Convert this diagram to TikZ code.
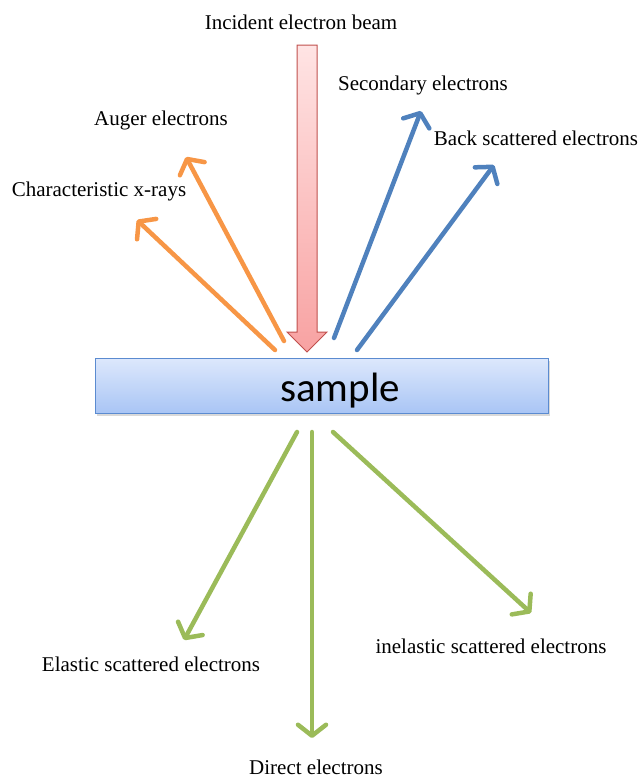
\documentclass[tikz,border=0pt]{standalone}
\usepackage{fontspec}
\setmainfont{Liberation Serif}
\newfontfamily\samplefont{Carlito}
\usetikzlibrary{arrows.meta,shadows}
\definecolor{orangeA}{HTML}{F79646}
\definecolor{blueA}{HTML}{4F81BD}
\definecolor{greenA}{HTML}{9BBB59}
\definecolor{beamedge}{HTML}{C0504D}
\definecolor{boxedge}{HTML}{5B8BD0}
\definecolor{boxtop}{HTML}{DDE8FC}
\definecolor{boxbot}{HTML}{A9C5F5}
\definecolor{beamtop}{HTML}{FFE4E4}
\definecolor{beambot}{HTML}{F8A2A2}
\tikzset{
  lbl/.style={font=\fontsize{21}{24}\selectfont, inner sep=0pt},
  ray/.style={line width=4.5pt, line cap=round,
    -{Straight Barb[length=11pt,width=28pt,line cap=round,line join=round]}},
  orray/.style={ray, draw=orangeA},
  blray/.style={ray, draw=blueA},
  grray/.style={ray, draw=greenA},
}
\begin{document}
\begin{tikzpicture}[x=1pt,y=-1pt]
\useasboundingbox (0,0) rectangle (642,780);
% incident beam
\shade[top color=beamtop, bottom color=beambot, draw=beamedge, line width=1pt]
  (297,45) -- (317,45) -- (317,332) -- (327,332) -- (307,352) -- (287,332) -- (297,332) -- cycle;
\node[lbl] (beam) at (301,22) {Incident electron beam};
% sample
\node[draw=boxedge, line width=1pt, top color=boxtop, bottom color=boxbot,
      minimum width=453pt, minimum height=55pt, inner sep=0pt,
      drop shadow={shadow xshift=1.5pt, shadow yshift=-2.5pt, opacity=0.3}] (sample) at (321.5,385.5) {};
\node[font=\samplefont\fontsize{41}{44}\selectfont, inner sep=0pt] (samplelbl) at (340,391) {sample};
% labels
\node[lbl] (sec) at (423,85) {Secondary electrons};
\node[lbl] (aug) at (161,120) {Auger electrons};
\node[lbl] (back) at (536,138) {Back scattered electrons};
\node[lbl] (char) at (99,191) {Characteristic x-rays};
\node[lbl] (elas) at (151,664) {Elastic scattered electrons};
\node[lbl] (inel) at (491,646) {inelastic scattered electrons};
\node[lbl] (dir) at (316,767) {Direct electrons};
% coordinates
\coordinate (o1) at (275,350); \coordinate (t1) at (137,220);
\coordinate (o2) at (284,341); \coordinate (t2) at (186,157);
\coordinate (b1) at (334,338); \coordinate (u1) at (421,111);
\coordinate (b2) at (357,350); \coordinate (u2) at (494,165);
\coordinate (g1) at (297,432); \coordinate (d1) at (184,640);
\coordinate (g2) at (312,432); \coordinate (d2) at (312,738);
\coordinate (g3) at (333,432); \coordinate (d3) at (531,613);
\draw[orray] (o1) -- (t1);
\draw[orray] (o2) -- (t2);
\draw[blray] (b1) -- (u1);
\draw[blray] (b2) -- (u2);
\draw[grray] (g1) -- (d1);
\draw[grray] (g2) -- (d2);
\draw[grray] (g3) -- (d3);
\end{tikzpicture}
\end{document}
